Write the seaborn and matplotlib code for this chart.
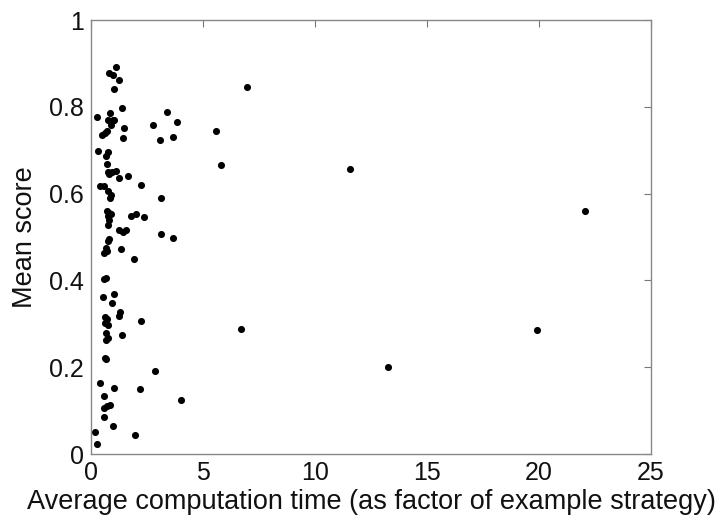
import matplotlib
matplotlib.use("Agg")
import matplotlib.pyplot as plt
import seaborn as sns
import pandas as pd

comp_time = [0.20, 0.27, 0.33, 0.25, 0.41, 0.41, 0.51, 0.61, 0.72, 0.57,
             0.65, 0.59, 0.55, 0.61, 0.65, 0.59, 0.57, 0.70, 0.59, 0.61,
             0.72, 0.63, 0.74, 0.65, 0.68, 0.78, 0.67, 0.76, 0.70, 0.74,
             0.82, 0.74, 0.90, 0.85, 0.77, 0.83, 0.85, 0.90, 0.98, 0.82,
             1.00, 1.13, 1.27, 1.04, 1.39, 1.49, 1.43, 1.10, 1.27, 1.66,
             2.21, 0.70, 0.82, 0.74, 0.90, 0.82, 0.74, 0.76, 0.82, 0.65,
             0.70, 0.60, 1.27, 1.43, 1.57, 1.33, 1.92, 1.80, 2.00, 2.37,
             3.11, 3.11, 3.64, 2.76, 3.07, 3.40, 3.64, 3.85, 5.56, 5.81,
             6.98, 11.58, 22.05, 6.71, 19.89, 13.26, 2.84, 4.01, 2.17, 1.96,
             0.98, 1.02, 0.86, 1.04, 0.92, 1.31, 1.27, 1.39, 2.21, 1.02,
             0.95]
mean_score = [0.050, 0.022, 0.698, 0.777, 0.617, 0.163, 0.734, 0.739, 0.744, 0.617,
              0.406, 0.403, 0.362, 0.222, 0.218, 0.134, 0.107, 0.110, 0.086, 0.302,
              0.310, 0.316, 0.297, 0.278, 0.262, 0.268, 0.686, 0.695, 0.669, 0.650,
              0.645, 0.605, 0.596, 0.590, 0.770, 0.768, 0.785, 0.757, 0.770, 0.877,
              0.873, 0.891, 0.862, 0.842, 0.797, 0.752, 0.729, 0.652, 0.637, 0.640,
              0.620, 0.560, 0.555, 0.548, 0.552, 0.540, 0.527, 0.490, 0.495, 0.475,
              0.468, 0.462, 0.515, 0.511, 0.515, 0.472, 0.450, 0.548, 0.552, 0.546,
              0.590, 0.508, 0.498, 0.757, 0.724, 0.789, 0.730, 0.764, 0.744, 0.666,
              0.845, 0.656, 0.561, 0.287, 0.285, 0.200, 0.192, 0.124, 0.149, 0.044,
              0.064, 0.153, 0.113, 0.368, 0.348, 0.327, 0.318, 0.275, 0.307, 0.770,
              0.650]

x_ticks = [0, 5, 10, 15, 20, 25]
y_ticks = [0, 0.2, 0.4, 0.6, 0.8, 1]
y_tick_labels = ["0", "0.2", "0.4", "0.6", "0.8", "1"]

df = pd.DataFrame({"time": comp_time, "score": mean_score})

sns.set_style("white")
plt.rcParams["font.family"] = ["Liberation Sans", "DejaVu Sans"]

fig = plt.figure(figsize=(7.17, 5.21), dpi=100)
ax = fig.add_axes([91 / 717, 1 - 454 / 521, 560 / 717, 434 / 521])
sns.scatterplot(data=df, x="time", y="score", ax=ax, color="black",
                s=26, edgecolor="black", linewidth=0)
ax.set_xlim(0, 25)
ax.set_ylim(0, 1)
ax.set_xticks(x_ticks)
ax.set_xticklabels([str(t) for t in x_ticks])
ax.set_yticks(y_ticks)
ax.set_yticklabels(y_tick_labels)
ax.tick_params(direction="in", length=5, width=0.8, top=True, right=True,
               labelsize=18, colors="#777777", pad=5)
ax.tick_params(axis="both", labelcolor="#111111")
for sp in ax.spines.values():
    sp.set_visible(True)
    sp.set_color("#888888")
    sp.set_linewidth(1.0)
ax.set_xlabel("Average computation time (as factor of example strategy)",
              fontsize=19.5, labelpad=3, color="#111111")
ax.set_ylabel("Mean score", fontsize=19.5, labelpad=8, color="#111111")
fig.savefig("out.png", dpi=100)
